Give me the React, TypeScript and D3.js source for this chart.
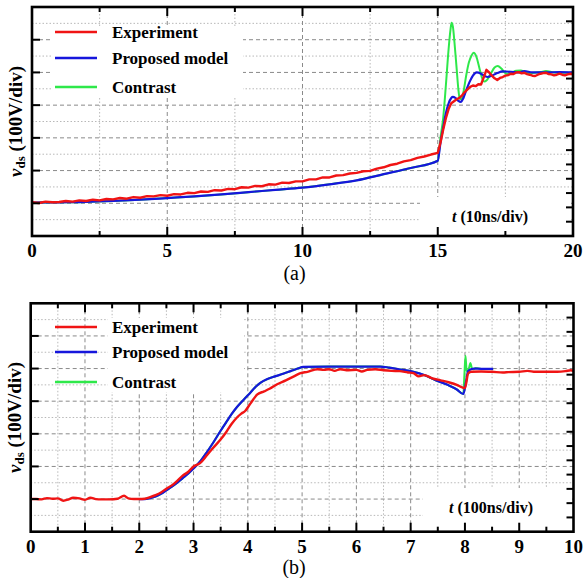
import React from 'react';
import * as d3 from 'd3';

type Pt = [number, number];

// ---------- shared ----------
const legendNames = ['Experiment', 'Proposed model', 'Contrast'];
const colorExperiment = '#f01414';
const colorModel = '#1616dc';
const colorContrast = '#2ee84a';

// ---------- panel (a) ----------
const topTickLabels = ['0', '5', '10', '15', '20'];
const topExperiment: Pt[] = [
  [0, 1.03], [0.25, 1.01], [0.5, 1.05], [0.75, 1.03], [1, 1.04], [1.25, 1.07], [1.5, 1.05], [1.75, 1.09],
  [2, 1.07], [2.25, 1.11], [2.5, 1.09], [2.75, 1.13], [3, 1.12], [3.25, 1.16], [3.5, 1.14], [3.75, 1.19],
  [4, 1.17], [4.25, 1.22], [4.5, 1.21], [4.75, 1.25], [5, 1.23], [5.25, 1.28], [5.5, 1.27], [5.75, 1.32],
  [6, 1.31], [6.25, 1.36], [6.5, 1.35], [6.75, 1.4], [7, 1.39], [7.25, 1.44], [7.5, 1.43], [7.75, 1.49],
  [8, 1.48], [8.25, 1.53], [8.5, 1.52], [8.75, 1.58], [9, 1.57], [9.25, 1.63], [9.5, 1.62], [9.75, 1.67],
  [10, 1.67], [10.25, 1.73], [10.5, 1.73], [10.75, 1.79], [11, 1.79], [11.25, 1.85], [11.5, 1.86], [11.75, 1.91],
  [12, 1.93], [12.25, 1.98], [12.5, 1.99], [12.75, 2.06], [13, 2.1], [13.25, 2.17], [13.5, 2.21], [13.75, 2.28],
  [14, 2.32], [14.25, 2.39], [14.5, 2.43], [14.75, 2.49], [15, 2.54],
  [15.1, 2.85], [15.2, 3.25], [15.3, 3.6], [15.4, 3.88], [15.5, 4.06], [15.6, 4.12], [15.7, 4.18], [15.8, 4.22],
  [15.9, 4.3], [16.0, 4.4], [16.1, 4.48], [16.2, 4.56], [16.3, 4.6], [16.4, 4.58], [16.5, 4.64], [16.6, 4.63],
  [16.7, 4.85], [16.8, 5.08], [16.9, 5.0], [17.0, 4.9], [17.1, 4.82], [17.2, 4.77], [17.3, 4.83], [17.4, 4.86],
  [17.5, 4.9], [17.6, 4.92], [17.7, 4.96], [17.8, 4.95], [17.9, 5.0], [18.0, 5.01], [18.1, 4.97], [18.2, 4.99],
  [18.3, 4.95], [18.4, 4.93], [18.5, 4.9], [18.6, 4.89], [18.7, 4.93], [18.8, 4.96], [18.9, 4.98], [19.0, 4.99],
  [19.1, 4.95], [19.2, 4.94], [19.3, 4.91], [19.4, 4.93], [19.5, 4.96], [19.6, 4.93], [19.7, 4.91], [19.8, 4.94],
  [19.9, 4.96], [20.0, 4.95],
];
const topModel: Pt[] = [
  [0, 1.02], [1, 1.03], [2, 1.04], [3, 1.07], [4, 1.11], [5, 1.16], [6, 1.21], [7, 1.27], [8, 1.34], [9, 1.41],
  [10, 1.48], [11, 1.58], [12, 1.7], [13, 1.89], [14, 2.08], [15, 2.3],
  [15.1, 2.85], [15.2, 3.3], [15.3, 3.75], [15.4, 4.05], [15.5, 4.22], [15.56, 4.25], [15.65, 4.22], [15.75, 4.14],
  [15.85, 4.1], [15.95, 4.22], [16.05, 4.45], [16.2, 4.75], [16.3, 4.9], [16.44, 5.0], [16.6, 4.96], [16.75, 4.88],
  [16.85, 4.86], [17.0, 4.9], [17.2, 4.98], [17.4, 5.03], [17.7, 5.02], [18.0, 5.0], [18.2, 5.04], [18.5, 5.0],
  [19, 5.0], [19.5, 5.01], [20, 5.0],
];
const topContrastRise: Pt[] = [
  [15.1, 3.0], [15.2, 3.6], [15.3, 4.6], [15.4, 5.7], [15.47, 6.3], [15.51, 6.52], [15.56, 6.4], [15.62, 5.9],
  [15.7, 5.1], [15.76, 4.5], [15.81, 4.2], [15.88, 4.18], [15.95, 4.4], [16.05, 4.9], [16.15, 5.3], [16.25, 5.52],
  [16.33, 5.6], [16.42, 5.5], [16.55, 5.1], [16.65, 4.8], [16.72, 4.72], [16.8, 4.75], [16.95, 4.95], [17.1, 5.15],
  [17.22, 5.2], [17.35, 5.12], [17.5, 4.98], [17.59, 4.95], [17.75, 5.0], [17.9, 5.05], [18.07, 5.06], [18.25, 5.0],
  [18.5, 4.98], [18.8, 5.01], [19.0, 5.04], [19.3, 5.0], [19.7, 4.99], [20, 5.0],
];

// ---------- panel (b) ----------
const bottomTickLabels = ['0', '1', '2', '3', '4', '5', '6', '7', '8', '9', '10'];
const bottomExperiment: Pt[] = [
  [0, 1.0], [0.1, 1.0], [0.2, 0.99], [0.3, 1.03], [0.4, 1.01], [0.5, 1.02], [0.6, 0.95], [0.7, 0.99],
  [0.78, 1.04], [0.9, 1.02], [1.0, 0.98], [1.1, 1.04], [1.2, 1.0], [1.3, 0.99], [1.45, 0.99], [1.6, 1.01],
  [1.72, 1.1], [1.8, 1.02], [1.9, 1.0], [2.0, 1.0], [2.1, 1.01], [2.2, 1.06], [2.3, 1.12], [2.4, 1.2],
  [2.5, 1.32], [2.6, 1.42], [2.7, 1.56], [2.8, 1.72], [2.9, 1.83], [3.0, 2.0], [3.12, 2.1], [3.25, 2.35],
  [3.35, 2.55], [3.49, 2.81], [3.6, 3.05], [3.7, 3.3], [3.8, 3.5], [3.88, 3.62], [3.95, 3.7], [4.02, 3.86],
  [4.1, 4.05], [4.17, 4.2], [4.3, 4.3], [4.4, 4.38], [4.54, 4.52], [4.7, 4.64], [4.85, 4.76], [4.97, 4.86],
  [5.1, 4.9], [5.28, 4.98], [5.4, 4.96], [5.5, 4.98], [5.6, 4.93], [5.7, 4.98], [5.85, 4.95], [6.0, 4.96],
  [6.1, 4.91], [6.2, 4.96], [6.35, 4.98], [6.5, 4.95], [6.65, 4.93], [6.8, 4.92], [6.95, 4.88], [7.05, 4.86],
  [7.15, 4.76], [7.25, 4.8], [7.4, 4.7], [7.55, 4.64], [7.7, 4.58], [7.85, 4.5], [7.95, 4.42], [8.0, 4.4],
  [8.06, 4.85], [8.12, 4.9], [8.3, 4.91], [8.5, 4.9], [8.7, 4.88], [8.8, 4.89], [9.0, 4.9], [9.15, 4.93],
  [9.3, 4.9], [9.5, 4.9], [9.7, 4.9], [9.85, 4.92], [9.95, 4.95], [10, 4.93],
];
const bottomModel: Pt[] = [
  [2.0, 1.0], [2.1, 1.0], [2.2, 1.03], [2.3, 1.08], [2.4, 1.16], [2.5, 1.27], [2.6, 1.38], [2.7, 1.5],
  [2.8, 1.64], [2.9, 1.78], [3.0, 1.94], [3.12, 2.15], [3.25, 2.45], [3.37, 2.75], [3.49, 3.07], [3.6, 3.35],
  [3.7, 3.6], [3.8, 3.82], [3.92, 4.04], [4.05, 4.27], [4.15, 4.45], [4.23, 4.56], [4.35, 4.67], [4.5, 4.76],
  [4.65, 4.84], [4.8, 4.93], [4.92, 5.0], [5.02, 5.05], [5.5, 5.06], [6.0, 5.06], [6.44, 5.06], [6.6, 5.03],
  [6.81, 4.97], [7.05, 4.9], [7.25, 4.8], [7.45, 4.65], [7.68, 4.5], [7.85, 4.36], [7.97, 4.22], [8.02, 4.6],
  [8.06, 4.93], [8.16, 5.0], [8.3, 4.99], [8.52, 4.99],
];
const bottomContrastSpike: Pt[] = [
  [7.99, 4.8], [8.01, 5.39], [8.03, 4.95], [8.05, 4.9], [8.08, 5.05], [8.1, 5.17], [8.13, 5.0],
  [8.16, 4.98], [8.2, 5.02], [8.3, 4.99], [8.52, 4.99],
];

const FONT = '"Liberation Serif", "Times New Roman", serif';

interface PanelCfg {
  L: number; R: number; T: number; B: number;
  xMax: number; major: number; minor: number;
  tickLabels: string[];
  experiment: Pt[]; model: Pt[]; contrast: Pt[];
  expCurve: d3.CurveFactory;
  legendY: number[];
  legendBox: [number, number, number, number];
  unitLabel: string; unitX: number; unitY: number;
  cover: [number, number, number, number];
  caption: string; captionY: number;
}

function Panel({ c }: { c: PanelCfg }) {
  const x = d3.scaleLinear().domain([0, c.xMax]).range([c.L, c.R]);
  const y = d3.scaleLinear().domain([0, 7]).range([c.B, c.T]);
  const smooth = d3.line<Pt>().x(d => x(d[0])).y(d => y(d[1])).curve(d3.curveMonotoneX);
  const rough = d3.line<Pt>().x(d => x(d[0])).y(d => y(d[1])).curve(c.expCurve);

  const hMajor = d3.range(1, 7);
  const hMinor = d3.range(0.5, 7, 1);
  const nMinor = Math.round(c.xMax / c.minor);
  const xs = d3.range(1, nMinor).map(i => i * c.minor);
  const isMajor = (v: number) => Math.abs(v / c.major - Math.round(v / c.major)) < 1e-6;
  const vMajor = xs.filter(isMajor);
  const vMinor = xs.filter(v => !isMajor(v));
  const labelVals = d3.range(0, c.tickLabels.length).map(i => i * c.major);
  const rightTicks = d3.range(1, 16).map(i => c.T + (i * (c.B - c.T)) / 16);

  const dashed = { stroke: '#8a8a8a', strokeWidth: 1, strokeDasharray: '4 3' };
  const dotted = { stroke: '#b8b8b8', strokeWidth: 1, strokeDasharray: '1.5 2' };
  const cols = [colorExperiment, colorModel, colorContrast];

  return (
    <g>
      {hMinor.map(v => <line key={'hm' + v} x1={c.L} x2={c.R} y1={y(v)} y2={y(v)} {...dotted} />)}
      {vMinor.map(v => <line key={'vm' + v} x1={x(v)} x2={x(v)} y1={c.T} y2={c.B} {...dotted} />)}
      {hMajor.map(v => <line key={'hM' + v} x1={c.L} x2={c.R} y1={y(v)} y2={y(v)} {...dashed} />)}
      {vMajor.map(v => <line key={'vM' + v} x1={x(v)} x2={x(v)} y1={c.T} y2={c.B} {...dashed} />)}

      <rect x={c.cover[0]} y={c.cover[1]} width={c.cover[2]} height={c.cover[3]} fill="#fff" />
      <rect x={c.legendBox[0]} y={c.legendBox[1]} width={c.legendBox[2]} height={c.legendBox[3]} fill="#fff" />

      <path d={smooth(c.contrast) || ''} fill="none" stroke={colorContrast} strokeWidth={2} />
      <path d={smooth(c.model) || ''} fill="none" stroke={colorModel} strokeWidth={2.2} />
      <path d={rough(c.experiment) || ''} fill="none" stroke={colorExperiment} strokeWidth={2.4} strokeLinejoin="round" />

      {/* ticks */}
      {xs.map(v => {
        const len = isMajor(v) ? 9 : 5;
        return (
          <g key={'t' + v}>
            <line x1={x(v)} x2={x(v)} y1={c.B} y2={c.B - len} stroke="#000" strokeWidth={2} />
            <line x1={x(v)} x2={x(v)} y1={c.T} y2={c.T + len} stroke="#000" strokeWidth={2} />
          </g>
        );
      })}
      {hMajor.map(v => <line key={'lt' + v} x1={c.L} x2={c.L + 8} y1={y(v)} y2={y(v)} stroke="#000" strokeWidth={2} />)}
      {rightTicks.map((py, i) => <line key={'rt' + i} x1={c.R} x2={c.R - 7} y1={py} y2={py} stroke="#000" strokeWidth={2} />)}
      <rect x={c.L} y={c.T} width={c.R - c.L} height={c.B - c.T} fill="none" stroke="#000" strokeWidth={2.6} />

      {/* tick labels */}
      {c.tickLabels.map((t, i) => (
        <text key={'xl' + t} x={x(labelVals[i])} y={c.B + 21} textAnchor="middle" fontFamily={FONT}
          fontWeight="bold" fontSize={19}>{t}</text>
      ))}

      {/* legend */}
      {legendNames.map((n, i) => (
        <g key={n}>
          <line x1={55} x2={97} y1={c.legendY[i]} y2={c.legendY[i]} stroke={cols[i]} strokeWidth={2.4} />
          <text x={112} y={c.legendY[i] + 5.5} fontFamily={FONT} fontWeight="bold" fontSize={17}>{n}</text>
        </g>
      ))}

      {/* unit label */}
      <text x={c.unitX} y={c.unitY} fontFamily={FONT} fontWeight="bold" fontSize={16}>
        <tspan fontStyle="italic">t</tspan> {c.unitLabel}
      </text>

      {/* y label */}
      <text transform={`translate(${c.L - 10},${(c.T + c.B) / 2}) rotate(-90)`} textAnchor="middle"
        fontFamily={FONT} fontWeight="bold" fontSize={19}>
        <tspan fontStyle="italic">v</tspan>
        <tspan fontSize={13} dy={3}>ds</tspan>
        <tspan dy={-3}> (100V/div)</tspan>
      </text>

      <text x={(c.L + c.R) / 2 - 8} y={c.captionY} textAnchor="middle" fontFamily={FONT} fontSize={20}>{c.caption}</text>
    </g>
  );
}

const topContrast: Pt[] = topModel.filter(p => p[0] <= 15).concat(topContrastRise);
const bottomContrast: Pt[] = bottomModel.filter(p => p[0] <= 7.97).concat(bottomContrastSpike);

const panelA: PanelCfg = {
  L: 32, R: 573, T: 7, B: 236, xMax: 20, major: 5, minor: 2.5,
  tickLabels: topTickLabels,
  experiment: topExperiment, model: topModel, contrast: topContrast,
  expCurve: d3.curveLinear,
  legendY: [32, 58, 87],
  legendBox: [53, 27, 190, 70],
  unitLabel: '(10ns/div)', unitX: 452, unitY: 222,
  cover: [420, 197, 151, 37],
  caption: '(a)', captionY: 280,
};

const panelB: PanelCfg = {
  L: 30.7, R: 573.5, T: 303.3, B: 531.7, xMax: 10, major: 1, minor: 0.5,
  tickLabels: bottomTickLabels,
  experiment: bottomExperiment, model: bottomModel, contrast: bottomContrast,
  expCurve: d3.curveMonotoneX,
  legendY: [327, 352, 382],
  legendBox: [108, 318, 136, 74],
  unitLabel: '(100ns/div)', unitX: 449, unitY: 513,
  cover: [423, 488, 149, 42],
  caption: '(b)', captionY: 574,
};

export default function App() {
  return (
    <svg width={584} height={578} viewBox="0 0 584 578"
      style={{ position: 'absolute', left: 0, top: 0, background: '#fff' }}>
      <rect x={0} y={0} width={584} height={578} fill="#fff" />
      <Panel c={panelA} />
      <Panel c={panelB} />
    </svg>
  );
}
